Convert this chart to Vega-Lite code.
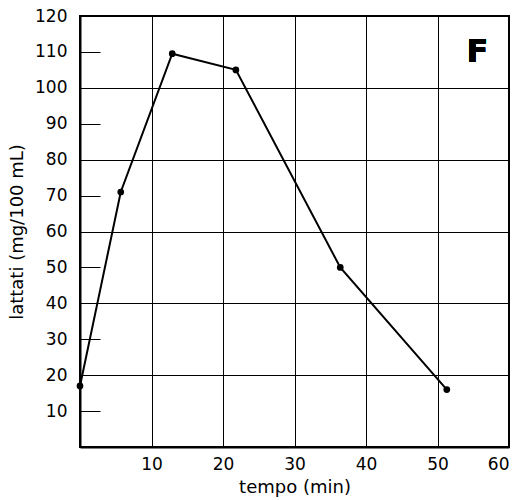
{
  "$schema": "https://vega.github.io/schema/vega-lite/v6.json",
  "autosize": {"type": "none"},
  "padding": {"left": 80, "top": 16, "right": 23, "bottom": 53},
  "width": 429,
  "height": 431,
  "background": "white",
  "config": {
    "view": {"stroke": "black", "strokeWidth": 2},
    "font": "DejaVu Sans",
    "axis": {"labelFont": "DejaVu Sans", "titleFont": "DejaVu Sans", "labelColor": "black", "titleColor": "black", "domainColor": "black", "domainWidth": 2, "tickColor": "black", "gridColor": "black", "gridWidth": 1, "labelOverlap": false}
  },
  "data": {"values": [
    {"tempo": 0, "lattati": 17},
    {"tempo": 5.7, "lattati": 71},
    {"tempo": 12.9, "lattati": 109.5},
    {"tempo": 21.8, "lattati": 105},
    {"tempo": 36.4, "lattati": 50},
    {"tempo": 51.3, "lattati": 16}
  ]},
  "layer": [
    {
      "mark": {"type": "line", "color": "black", "strokeWidth": 2, "clip": false},
      "encoding": {
        "x": {"field": "tempo", "type": "quantitative", "scale": {"domain": [0, 60], "nice": false, "zero": false},
          "axis": {"title": "tempo (min)", "values": [10, 20, 30, 40, 50, 60], "tickCount": 20, "ticks": false, "labelFontSize": 17, "labelPadding": 9, "titleFontSize": 18, "titleFontWeight": "normal", "titlePadding": 6,
            "gridOpacity": {"condition": {"test": "datum.value < 60", "value": 1}, "value": 0}}},
        "y": {"field": "lattati", "type": "quantitative", "scale": {"domain": [0, 120], "nice": false},
          "axis": {"title": "lattati (mg/100 mL)", "values": [10, 20, 30, 40, 50, 60, 70, 80, 90, 100, 110, 120], "tickCount": 20, "tickSize": -20, "tickWidth": 1, "labelFontSize": 17, "labelPadding": 33, "titleFontSize": 18, "titleFontWeight": "normal", "titlePadding": 8,
            "gridOpacity": {"condition": {"test": "datum.value == 20 || datum.value == 40 || datum.value == 60 || datum.value == 80 || datum.value == 100", "value": 1}, "value": 0}}}
      }
    },
    {
      "mark": {"type": "point", "filled": true, "color": "black", "size": 45, "opacity": 1, "clip": false},
      "encoding": {
        "x": {"field": "tempo", "type": "quantitative"},
        "y": {"field": "lattati", "type": "quantitative"}
      }
    },
    {
      "mark": {"type": "text", "text": "F", "fontSize": 32, "fontWeight": "bold", "color": "black", "font": "DejaVu Sans"},
      "encoding": {
        "x": {"datum": 55.6},
        "y": {"datum": 110}
      }
    }
  ]
}
